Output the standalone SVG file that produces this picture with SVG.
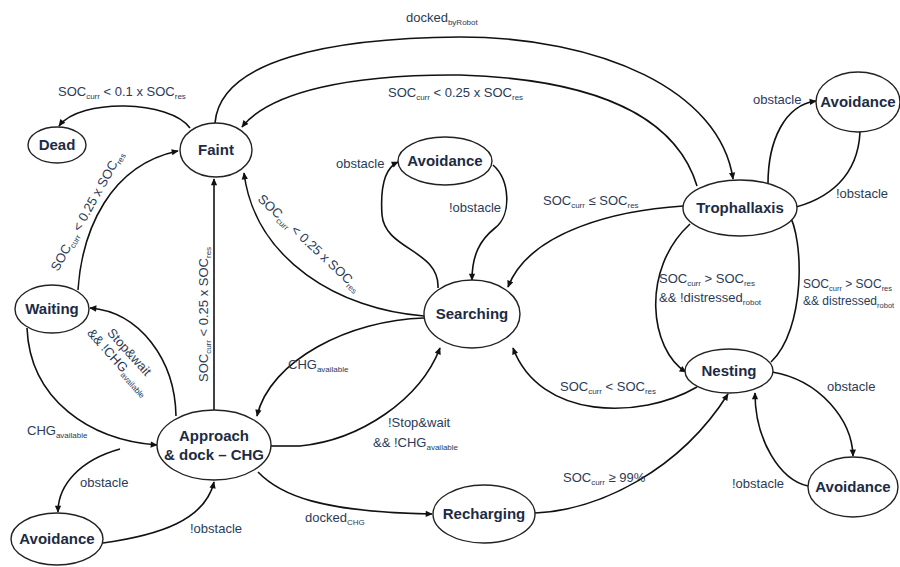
<svg xmlns="http://www.w3.org/2000/svg" width="900" height="567" viewBox="0 0 900 567">
<defs>
<marker id="ah" viewBox="0 0 10 10" refX="9" refY="5" markerWidth="8" markerHeight="7" orient="auto" markerUnits="userSpaceOnUse"><path d="M0,0.5 L10,5 L0,9.5 z" fill="#111"/></marker>
</defs>
<style>
.n ellipse{fill:#fff;stroke:#222;stroke-width:1.4}
.n text{font-family:"Liberation Sans",Arial,sans-serif;font-size:15px;font-weight:bold;fill:#1d2b44;text-anchor:middle}
.e path{fill:none;stroke:#111;stroke-width:1.6;marker-end:url(#ah)}
.e path.nm{marker-end:none}
.l{font-family:"Liberation Sans",Arial,sans-serif;font-size:13px;fill:#2b3b57}
.s{font-size:8px}
.sm{font-size:12px}
.sm .s{font-size:7.5px}
</style>
<rect width="900" height="567" fill="#fff"/>
<g id="connectors" class="e">
<path d="M190,128 C170,100 80,98 59,126"/>
<path d="M215,123 C220,60 330,38 460,37 C600,37 720,90 733,179"/>
<path d="M697,186 C680,130 620,80 460,75 C350,74 270,92 242,127"/>
<path d="M78,290 C82,230 110,165 178,151"/>
<path d="M214,410 L214,179"/>
<path d="M424,316 C340,310 255,260 244,173"/>
<path d="M438,288 C440,250 385,250 382,215 C380,185 385,168 398,162"/>
<path d="M493,165 C510,180 512,215 495,228 C480,240 472,255 472,280"/>
<path d="M683,206 C620,210 530,230 508,287"/>
<path d="M690,224 C640,270 650,350 686,372"/>
<path d="M771,362 C805,330 805,240 788,212"/>
<path d="M768,184 C768,140 785,105 816,101"/>
<path d="M860,132 C858,175 830,200 788,209"/>
<path d="M772,372 C820,380 852,420 853,456"/>
<path d="M808,486 C780,480 755,440 755,393"/>
<path d="M697,387 C640,420 540,420 513,348"/>
<path d="M535,513 C600,510 680,470 728,394"/>
<path d="M258,472 C280,495 320,512 432,514"/>
<path d="M424,318 C350,320 270,360 257,416"/>
<path class="nm" d="M271,446 L300,446"/>
<path d="M300,446 C360,440 420,400 440,348"/>
<path d="M176,416 C175,360 140,312 90,308"/>
<path d="M27,328 C30,400 90,440 157,445"/>
<path d="M120,449 C80,460 58,485 58,512"/>
<path d="M103,543 C160,535 205,520 214,482"/>
</g>
<g id="labels" class="l">
<text x="58" y="96">SOC<tspan class="s" dy="3">curr</tspan><tspan dy="-3"> &lt; 0.1 x SOC</tspan><tspan class="s" dy="3">res</tspan></text>
<text x="406" y="22">docked<tspan class="s" dy="3">byRobot</tspan></text>
<text x="388" y="97">SOC<tspan class="s" dy="3">curr</tspan><tspan dy="-3"> &lt; 0.25 x SOC</tspan><tspan class="s" dy="3">res</tspan></text>
<text x="336" y="168">obstacle</text>
<text x="449" y="212">!obstacle</text>
<text x="543" y="205">SOC<tspan class="s" dy="3">curr</tspan><tspan dy="-3"> ≤ SOC</tspan><tspan class="s" dy="3">res</tspan></text>
<text x="753" y="104">obstacle</text>
<text x="836" y="198">!obstacle</text>
<text x="659" y="283">SOC<tspan class="s" dy="3">curr</tspan><tspan dy="-3"> &gt; SOC</tspan><tspan class="s" dy="3">res</tspan></text>
<text x="659" y="302">&amp;&amp; !distressed<tspan class="s" dy="3">robot</tspan></text>
<g class="sm">
<text x="803" y="288">SOC<tspan class="s" dy="3">curr</tspan><tspan dy="-3"> &gt; SOC</tspan><tspan class="s" dy="3">res</tspan></text>
<text x="803" y="305">&amp;&amp; distressed<tspan class="s" dy="3">robot</tspan></text>
</g>
<text x="827" y="391">obstacle</text>
<text x="732" y="488">!obstacle</text>
<text x="560" y="391">SOC<tspan class="s" dy="3">curr</tspan><tspan dy="-3"> &lt; SOC</tspan><tspan class="s" dy="3">res</tspan></text>
<text x="563" y="482">SOC<tspan class="s" dy="3">curr</tspan><tspan dy="-3"> ≥ 99%</tspan></text>
<text x="305" y="522">docked<tspan class="s" dy="3">CHG</tspan></text>
<text x="388" y="427">!Stop&amp;wait</text>
<text x="373" y="447">&amp;&amp; !CHG<tspan class="s" dy="3">available</tspan></text>
<text x="288" y="369">CHG<tspan class="s" dy="3">available</tspan></text>
<text x="27" y="435">CHG<tspan class="s" dy="3">available</tspan></text>
<text x="80" y="487">obstacle</text>
<text x="190" y="533">!obstacle</text>
<text transform="translate(58,272) rotate(-61)">SOC<tspan class="s" dy="3">curr</tspan><tspan dy="-3"> &lt; 0.25 x SOC</tspan><tspan class="s" dy="3">res</tspan></text>
<text transform="translate(208,382) rotate(-90)">SOC<tspan class="s" dy="3">curr</tspan><tspan dy="-3"> &lt; 0.25 x SOC</tspan><tspan class="s" dy="3">res</tspan></text>
<text transform="translate(257,200) rotate(43)">SOC<tspan class="s" dy="3">curr</tspan><tspan dy="-3"> &lt; 0.25 x SOC</tspan><tspan class="s" dy="3">res</tspan></text>
<g transform="translate(126,355) rotate(48)" text-anchor="middle">
<text x="0" y="0">Stop&amp;wait</text>
<text x="0" y="15">&amp;&amp; !CHG<tspan class="s" dy="3">available</tspan></text>
</g>
</g>
<g id="dead" class="n"><ellipse cx="57" cy="145" rx="29" ry="18"/><text x="57" y="150">Dead</text></g>
<g id="faint" class="n"><ellipse cx="216" cy="150" rx="36" ry="27"/><text x="216" y="155">Faint</text></g>
<g id="avoidance-search" class="n"><ellipse cx="445" cy="161" rx="47" ry="24"/><text x="445" y="166">Avoidance</text></g>
<g id="avoidance-troph" class="n"><ellipse cx="858" cy="102" rx="42" ry="30"/><text x="858" y="107">Avoidance</text></g>
<g id="trophallaxis" class="n"><ellipse cx="740" cy="208" rx="57" ry="28"/><text x="740" y="213">Trophallaxis</text></g>
<g id="nesting" class="n"><ellipse cx="729" cy="371" rx="44" ry="22"/><text x="729" y="376">Nesting</text></g>
<g id="searching" class="n"><ellipse cx="472" cy="314" rx="48" ry="34"/><text x="472" y="319">Searching</text></g>
<g id="waiting" class="n"><ellipse cx="52" cy="309" rx="37" ry="24"/><text x="52" y="314">Waiting</text></g>
<g id="approach" class="n"><ellipse cx="214" cy="445" rx="57" ry="35"/><text x="214" y="441">Approach</text><text x="214" y="460">&amp; dock – CHG</text></g>
<g id="avoidance-approach" class="n"><ellipse cx="57" cy="539" rx="46" ry="26"/><text x="57" y="544">Avoidance</text></g>
<g id="recharging" class="n"><ellipse cx="484" cy="514" rx="51" ry="29"/><text x="484" y="519">Recharging</text></g>
<g id="avoidance-nest" class="n"><ellipse cx="853" cy="487" rx="45" ry="30"/><text x="853" y="492">Avoidance</text></g>
</svg>
